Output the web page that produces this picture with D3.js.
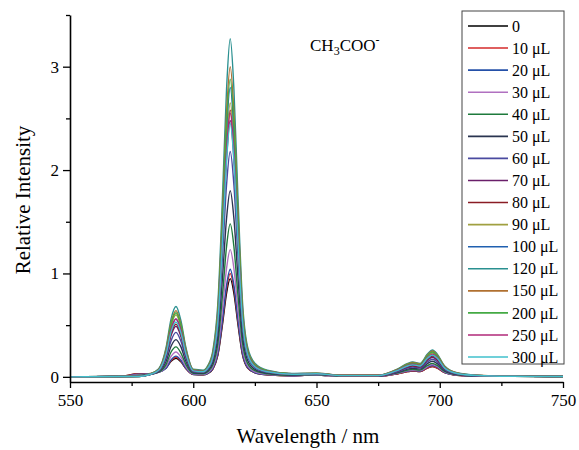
<!DOCTYPE html>
<html>
<head>
<meta charset="utf-8">
<script src="https://cdn.jsdelivr.net/npm/d3@7"></script>
<style>
  body { margin: 0; background: #fff; }
  text { font-family: "Liberation Serif", "Times New Roman", serif; fill: #000; }
</style>
</head>
<body>
<div id="chart"></div>
<script>
var svgWidth = 579;
var svgHeight = 450;

var margin = { top: 15, right: 16, bottom: 68, left: 70 };
var width = svgWidth - margin.left - margin.right;
var height = svgHeight - margin.top - margin.bottom;

// wavelength grid (nm) shared by every spectrum
var wavelengths = [550, 570, 578, 582, 586, 589, 591, 593, 595, 597, 600, 604, 606, 608, 610, 612, 613.5, 615, 616.5, 618,
  620, 622, 625, 630, 640, 650, 660, 675, 683, 687, 689, 692, 695, 697, 699, 702, 707, 715, 730, 750];

var labels = ["0", "10 μL", "20 μL", "30 μL", "40 μL", "50 μL", "60 μL", "70 μL", "80 μL", "90 μL",
  "100 μL", "120 μL", "150 μL", "200 μL", "250 μL", "300 μL"];

var colors = ["#000000", "#d42a2a", "#2450a8", "#b070c0", "#1e7a3c", "#2a3550", "#4a4aa0", "#6a1f6a",
  "#8a1c24", "#a0a040", "#2060b0", "#2a9090", "#b07030", "#44aa44", "#b02878", "#40c0cc"];

// relative intensity, one array per added volume
var s0 = [0, .003, .03, .03, .045, .085, .15, .18, .145, .08, .023, .019, .033, .076, .209, .532, .808, .95, .808, .532, .209, .086, .038, .019, .01, .018, .005, .005, .03, .05, .055, .05, .085, .10, .085, .04, .015, .006, .005, .003];
var s10 = [0, .003, .03, .03, .047, .09, .156, .19, .152, .08, .024, .02, .035, .08, .22, .56, .85, 1.00, .85, .56, .22, .09, .04, .02, .01, .018, .005, .005, .03, .05, .055, .05, .085, .10, .085, .04, .015, .006, .005, .003];
var s20 = [0, .003, .025, .028, .045, .084, .164, .20, .16, .084, .025, .021, .036, .083, .229, .582, .884, 1.04, .884, .582, .229, .094, .042, .021, .01, .018, .005, .005, .033, .055, .06, .055, .094, .11, .094, .044, .017, .007, .005, .003];
var s30 = [0, .003, .02, .025, .044, .10, .197, .24, .19, .10, .029, .025, .043, .098, .271, .689, 1.046, 1.23, 1.046, .689, .271, .111, .049, .025, .012, .02, .006, .006, .036, .06, .066, .06, .10, .12, .10, .048, .018, .007, .005, .003];
var s40 = [0, .003, .015, .022, .045, .12, .24, .29, .23, .12, .034, .03, .052, .118, .326, .829, 1.258, 1.48, 1.258, .829, .326, .133, .059, .03, .015, .022, .007, .007, .04, .065, .072, .065, .11, .13, .11, .052, .02, .008, .005, .003];
var s50 = [0, .003, .01, .02, .05, .15, .295, .36, .29, .15, .041, .036, .063, .144, .396, 1.008, 1.53, 1.80, 1.53, 1.008, .396, .162, .072, .036, .018, .024, .009, .009, .045, .075, .083, .075, .128, .15, .128, .06, .023, .009, .005, .003];
var s60 = [0, .003, .008, .02, .055, .18, .35, .43, .344, .18, .048, .044, .076, .174, .48, 1.221, 1.853, 2.18, 1.853, 1.221, .48, .196, .087, .044, .022, .027, .011, .011, .051, .085, .094, .085, .145, .17, .145, .068, .026, .01, .005, .003];
var s70 = [0, .003, .006, .02, .06, .206, .40, .49, .39, .206, .054, .05, .087, .198, .546, 1.389, 2.108, 2.48, 2.108, 1.389, .546, .223, .099, .05, .025, .03, .012, .012, .057, .095, .105, .095, .16, .19, .16, .076, .029, .011, .005, .003];
var s80 = [0, .003, .005, .02, .062, .214, .42, .51, .41, .214, .056, .052, .09, .206, .568, 1.445, 2.193, 2.58, 2.193, 1.445, .568, .232, .103, .052, .026, .03, .013, .013, .06, .10, .11, .10, .17, .20, .17, .08, .03, .012, .005, .003];
var s90 = [0, .003, .004, .022, .07, .25, .49, .60, .48, .25, .065, .053, .093, .212, .583, 1.484, 2.253, 2.65, 2.253, 1.484, .583, .239, .106, .053, .027, .031, .013, .013, .07, .115, .127, .115, .195, .23, .195, .092, .035, .014, .005, .003];
var s100 = [0, .003, .004, .02, .066, .235, .46, .56, .45, .235, .061, .056, .098, .224, .616, 1.568, 2.38, 2.80, 2.38, 1.568, .616, .252, .112, .056, .028, .032, .014, .014, .063, .105, .116, .105, .18, .21, .18, .084, .032, .013, .005, .003];
var s120 = [0, .003, .003, .025, .078, .286, .56, .68, .544, .286, .073, .065, .114, .262, .719, 1.831, 2.78, 3.27, 2.78, 1.831, .719, .294, .131, .065, .033, .036, .016, .016, .078, .13, .143, .13, .22, .26, .22, .104, .039, .016, .005, .003];
var s150 = [0, .003, .003, .024, .074, .27, .525, .64, .51, .27, .069, .06, .105, .24, .66, 1.68, 2.55, 3.00, 2.55, 1.68, .66, .27, .12, .06, .03, .034, .015, .015, .075, .125, .138, .125, .21, .25, .21, .10, .038, .015, .005, .003];
var s200 = [0, .003, .003, .023, .072, .26, .51, .62, .50, .26, .067, .058, .101, .23, .634, 1.613, 2.448, 2.88, 2.448, 1.613, .634, .259, .115, .058, .029, .033, .014, .014, .072, .12, .132, .12, .204, .24, .204, .096, .036, .014, .005, .003];
var s250 = [0, .003, .003, .021, .066, .235, .46, .56, .45, .235, .061, .051, .089, .204, .561, 1.428, 2.168, 2.55, 2.168, 1.428, .561, .23, .102, .051, .026, .03, .013, .013, .066, .11, .121, .11, .187, .22, .187, .088, .033, .013, .005, .003];
var s300 = [0, .003, .003, .02, .063, .223, .435, .53, .424, .223, .058, .049, .086, .196, .539, 1.372, 2.083, 2.45, 2.083, 1.372, .539, .221, .098, .049, .025, .03, .012, .012, .063, .105, .116, .105, .18, .21, .18, .084, .032, .013, .005, .003];

var spectra = [s0, s10, s20, s30, s40, s50, s60, s70, s80, s90, s100, s120, s150, s200, s250, s300];

var xMajor = [550, 600, 650, 700, 750];
var xMinor = [575, 625, 675, 725];
var yMajor = [0, 1, 2, 3];
var yMinor = [0.5, 1.5, 2.5, 3.5];

var svg = d3.select("#chart")
  .append("svg")
  .attr("width", svgWidth)
  .attr("height", svgHeight);

var chartGroup = svg.append("g")
  .attr("transform", `translate(${margin.left}, ${margin.top})`);

var xScale = d3.scaleLinear().domain([550, 750]).range([0, width]);
var yScale = d3.scaleLinear().domain([-0.05, 3.5]).range([height, 0]);

// spectra
var line = d3.line()
  .x((d, i) => xScale(wavelengths[i]))
  .y(d => yScale(d))
  .curve(d3.curveMonotoneX);

chartGroup.selectAll(".spectrum")
  .data(spectra)
  .enter()
  .append("path")
  .attr("class", "spectrum")
  .attr("d", d => line(d))
  .attr("fill", "none")
  .attr("stroke", (d, i) => colors[i])
  .attr("stroke-width", 1.4);

// axes: major ticks with labels, minor ticks without
function styleAxis(g) {
  g.select(".domain").attr("stroke", "#000").attr("stroke-width", 1.6);
  g.selectAll(".tick line").attr("stroke", "#000").attr("stroke-width", 1.3);
  g.selectAll("text").style("font-size", "17px").style("font-family", "Liberation Serif, serif");
}

var xAxis = chartGroup.append("g")
  .attr("transform", `translate(0, ${height})`)
  .call(d3.axisBottom(xScale).tickValues(xMajor).tickSize(6).tickSizeOuter(0).tickPadding(6).tickFormat(d3.format("d")))
  .call(styleAxis);

chartGroup.append("g")
  .attr("transform", `translate(0, ${height})`)
  .call(d3.axisBottom(xScale).tickValues(xMinor).tickSize(4).tickSizeOuter(0).tickFormat(""))
  .call(styleAxis)
  .select(".domain").remove();

var yAxis = chartGroup.append("g")
  .call(d3.axisLeft(yScale).tickValues(yMajor).tickSize(7).tickSizeOuter(0).tickPadding(4).tickFormat(d3.format("d")))
  .call(styleAxis);

chartGroup.append("g")
  .call(d3.axisLeft(yScale).tickValues(yMinor).tickSize(4).tickSizeOuter(0).tickFormat(""))
  .call(styleAxis)
  .select(".domain").remove();

// axis titles
chartGroup.append("text")
  .attr("x", 238)
  .attr("y", height + 61)
  .attr("text-anchor", "middle")
  .style("font-size", "21px")
  .text("Wavelength / nm");

chartGroup.append("text")
  .attr("transform", "rotate(-90)")
  .attr("x", -185)
  .attr("y", -margin.left + 30)
  .attr("text-anchor", "middle")
  .style("font-size", "21px")
  .text("Relative Intensity");

// anion annotation
var anion = chartGroup.append("text")
  .attr("x", 240)
  .attr("y", 36)
  .style("font-size", "17px");
anion.append("tspan").text("CH");
anion.append("tspan").attr("dy", 4).style("font-size", "12px").text("3");
anion.append("tspan").attr("dy", -4).text("COO");
anion.append("tspan").attr("dy", -7).style("font-size", "12px").text("-");

// legend
var legend = svg.append("g")
  .attr("transform", "translate(462, 11)");

legend.append("rect")
  .attr("width", 102)
  .attr("height", 353)
  .attr("fill", "#fff")
  .attr("stroke", "#444")
  .attr("stroke-width", 1);

var rows = legend.selectAll(".row")
  .data(labels)
  .enter()
  .append("g")
  .attr("class", "row")
  .attr("transform", (d, i) => `translate(0, ${15 + i * 22.07})`);

rows.append("line")
  .attr("x1", 6)
  .attr("x2", 46)
  .attr("stroke", (d, i) => colors[i])
  .attr("stroke-width", 1.6);

rows.append("text")
  .attr("x", 50)
  .attr("dy", "0.35em")
  .style("font-size", "16px")
  .text(d => d);
</script>
</body>
</html>
